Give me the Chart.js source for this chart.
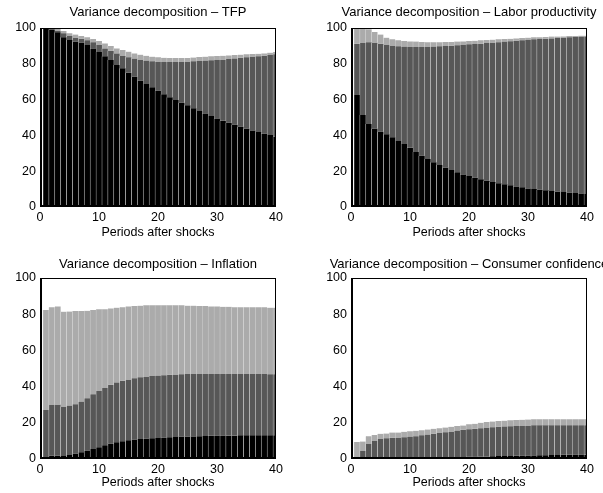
<!DOCTYPE html>
<html>
<head>
<meta charset="utf-8">
<script src="https://cdn.jsdelivr.net/npm/chart.js@4.4.0/dist/chart.umd.min.js"></script>
<style>
  html, body { margin: 0; padding: 0; background: #fff; overflow: hidden; }
  body { position: relative; width: 603px; height: 493px; }
  canvas { position: absolute; }
</style>
</head>
<body>
<canvas id="tfp" width="316" height="250" style="left:0;top:0"></canvas>
<canvas id="labor" width="316" height="250" style="left:311px;top:0"></canvas>
<canvas id="inflation" width="316" height="243" style="left:0;top:250px"></canvas>
<canvas id="confidence" width="316" height="243" style="left:311px;top:250px"></canvas>
<script>
// Forecast horizon and axis ticks
const periods = [1,2,3,4,5,6,7,8,9,10,11,12,13,14,15,16,17,18,19,20,
                 21,22,23,24,25,26,27,28,29,30,31,32,33,34,35,36,37,38,39,40];
const xTickValues = [0, 10, 20, 30, 40];
const yTickValues = [0, 20, 40, 60, 80, 100];

// Share of forecast error variance (%) explained by each shock
const tfpShock1 = [99.5,99.2,97.6,94.8,93.3,92.4,91.8,90.5,88.6,86.6,84.2,82.1,79.3,77.5,75.0,72.8,70.6,68.7,66.9,65.0,
                   63.0,61.3,59.8,58.3,56.8,55.1,53.6,52.3,50.8,49.5,48.2,47.1,46.0,44.9,43.8,42.8,41.9,41.0,40.2,39.3];
const tfpShock2 = [0.3,0.3,0.9,2.2,2.2,2.2,2.2,2.6,3.4,3.9,4.4,5.2,6.5,6.9,8.6,10.1,11.7,13.1,14.5,16.2,
                   18.0,19.7,21.2,22.7,24.4,26.3,28.0,29.5,31.2,32.6,34.1,35.6,37.0,38.5,39.8,41.2,42.3,43.5,44.7,46.0];
const tfpShock3 = [0.2,0.4,0.9,1.3,1.5,1.7,1.5,1.7,1.9,2.2,2.8,2.7,2.8,3.3,3.2,2.9,2.8,2.7,2.6,2.4,
                   2.4,2.2,2.2,2.2,2.1,2.1,2.2,2.2,2.2,2.3,2.2,2.0,1.9,1.7,1.7,1.5,1.4,1.3,1.3,1.3];

const laborShock1 = [62.6,51.4,46.4,43.8,42.1,40.6,38.9,36.9,35.2,33.1,30.7,28.7,26.8,25.0,23.5,22.0,20.7,19.4,18.2,17.3,
                     16.4,15.5,14.7,14.0,13.2,12.7,12.1,11.5,11.0,10.4,10.1,9.7,9.3,8.9,8.6,8.4,8.0,7.8,7.6,7.3];
const laborShock2 = [28.6,40.2,45.6,48.0,49.1,49.9,51.0,52.9,54.4,56.3,58.7,60.7,62.6,64.6,66.3,67.9,69.4,70.9,72.3,73.6,
                     74.7,75.7,76.9,77.8,78.8,79.7,80.5,81.4,82.1,83.1,83.6,84.2,84.7,85.3,85.8,86.2,86.8,87.2,87.6,88.0];
const laborShock3 = [8.6,8.2,7.3,6.0,5.1,4.1,3.8,3.3,3.1,3.1,3.0,2.8,2.6,2.4,2.2,2.3,2.1,2.1,2.0,1.8,
                     1.8,1.9,1.7,1.7,1.7,1.5,1.4,1.3,1.3,1.1,1.1,0.9,1.0,1.0,0.8,0.7,0.7,0.5,0.5,0.4];

const inflationShock1 = [0.5,1.8,1.8,1.7,2.2,3.0,3.7,4.6,5.5,6.5,7.6,8.5,9.2,9.8,10.3,10.7,11.1,11.3,11.4,11.6,
                         11.8,12.0,12.2,12.4,12.4,12.5,12.6,12.7,12.8,12.9,12.9,13.0,13.0,13.1,13.1,13.1,13.1,13.1,13.1,13.1];
const inflationShock2 = [26.6,28.1,28.3,27.3,27.3,27.3,28.0,29.0,30.3,31.1,31.9,32.5,33.1,33.4,33.6,33.9,34.1,34.3,34.5,34.5,
                         34.5,34.5,34.5,34.4,34.5,34.4,34.3,34.3,34.2,34.1,34.1,34.0,34.0,33.9,33.8,33.8,33.8,33.8,33.7,33.7];
const inflationShock3 = [55.2,53.9,54.2,52.4,52.0,51.4,50.0,48.3,46.5,45.1,43.3,42.2,41.3,40.7,40.4,39.9,39.5,39.3,39.0,38.9,
                         38.7,38.5,38.2,38.1,37.8,37.8,37.6,37.5,37.3,37.3,37.1,37.1,36.9,36.9,37.0,36.9,36.9,36.9,36.8,36.8];

const confidenceShock1 = [0.6,0.4,0.3,0.3,0.3,0.3,0.3,0.4,0.4,0.5,0.5,0.6,0.7,0.7,0.8,0.9,1.0,1.0,1.1,1.2,
                          1.3,1.4,1.4,1.5,1.6,1.7,1.7,1.8,1.9,1.9,2.0,2.1,2.1,2.2,2.2,2.3,2.3,2.4,2.4,2.5];
const confidenceShock2 = [0.3,4.0,8.0,9.7,10.8,11.2,11.4,11.5,11.6,11.9,12.1,12.5,12.8,13.2,13.5,13.9,14.2,14.7,15.0,15.2,
                          15.4,15.6,16.0,16.1,16.2,16.3,16.4,16.5,16.6,16.6,16.6,16.5,16.5,16.4,16.4,16.3,16.3,16.2,16.2,16.1];
const confidenceShock3 = [8.5,5.2,4.3,3.3,2.8,2.6,2.9,2.7,3.0,3.0,3.0,2.8,2.8,2.8,2.7,2.6,2.6,2.6,2.4,2.8,
                          2.8,3.0,3.0,3.1,3.2,3.2,3.3,3.3,3.2,3.3,3.3,3.3,3.4,3.4,3.4,3.4,3.4,3.4,3.4,3.4];

const FONT = 'Liberation Sans, Arial, Helvetica, sans-serif';
const shockColors = ['#000000', '#575757', '#ababab'];

// box around the plot area, heavier on the left and bottom like the original axes
const framePlugin = {
  id: 'frame',
  afterDatasetsDraw(chart) {
    const { ctx, chartArea: a } = chart;
    ctx.save();
    ctx.strokeStyle = '#000';
    ctx.lineWidth = 1;
    ctx.strokeRect(a.left + 0.5, a.top + 0.5, a.right - a.left - 1, a.bottom - a.top - 1);
    ctx.lineWidth = 2;
    ctx.beginPath();
    ctx.moveTo(a.left + 1, a.top);
    ctx.lineTo(a.left + 1, a.bottom - 1);
    ctx.lineTo(a.right, a.bottom - 1);
    ctx.stroke();
    ctx.restore();
  }
};

function makePanel(id, title, shares, layout) {
  const datasets = shares.map((data, i) => ({
    data: data,
    backgroundColor: shockColors[i],
    // thin pale edge between neighbouring bars
    borderColor: '#d2d2d2',
    borderWidth: { left: 0.6, right: 0, top: 0, bottom: 0 },
    barPercentage: 1,
    categoryPercentage: 1
  }));

  new Chart(document.getElementById(id), {
    type: 'bar',
    data: { labels: periods, datasets: datasets },
    plugins: [framePlugin],
    options: {
      responsive: false,
      animation: false,
      layout: { padding: 0 },
      plugins: {
        legend: { display: false },
        tooltip: { enabled: false },
        title: {
          display: true,
          text: title,
          color: '#000',
          font: { family: FONT, size: 13, weight: 'normal' },
          padding: { top: layout.titleTop, bottom: layout.titleBottom }
        }
      },
      scales: {
        x: {
          type: 'linear',
          min: 0,
          max: 40,
          stacked: true,
          offset: false,
          grid: { display: false, drawTicks: false, offset: false },
          border: { display: false },
          ticks: { color: '#000', font: { family: FONT, size: 12.5 }, padding: 3, maxRotation: 0, autoSkip: false },
          afterBuildTicks: s => { s.ticks = xTickValues.map(v => ({ value: v })); },
          afterFit: s => { s.height = layout.xHeight; },
          title: {
            display: true,
            text: 'Periods after shocks',
            color: '#000',
            font: { family: FONT, size: 12.5 },
            padding: { top: 0, bottom: layout.xTitleBottom }
          }
        },
        y: {
          min: 0,
          max: 100,
          stacked: true,
          grid: { display: false, drawTicks: false },
          border: { display: false },
          ticks: { color: '#000', font: { family: FONT, size: 12.5 }, padding: 4 },
          afterBuildTicks: s => { s.ticks = yTickValues.map(v => ({ value: v })); },
          afterFit: s => { s.width = 40; }
        },
        // empty right-hand axis keeps the plot area centred under the title
        y2: {
          position: 'right',
          grid: { display: false, drawTicks: false },
          border: { display: false },
          ticks: { display: false },
          afterFit: s => { s.width = 40; }
        }
      }
    }
  });
}

const topRow = { titleTop: 4.7, titleBottom: 7.7, xHeight: 43, xTitleBottom: 9.5 };
const bottomRow = { titleTop: 6.2, titleBottom: 6.2, xHeight: 34, xTitleBottom: 2.5 };

makePanel('tfp', 'Variance decomposition \u2013 TFP',
  [tfpShock1, tfpShock2, tfpShock3], topRow);
makePanel('labor', 'Variance decomposition \u2013 Labor productivity',
  [laborShock1, laborShock2, laborShock3], topRow);
makePanel('inflation', 'Variance decomposition \u2013 Inflation',
  [inflationShock1, inflationShock2, inflationShock3], bottomRow);
makePanel('confidence', 'Variance decomposition \u2013 Consumer confidence',
  [confidenceShock1, confidenceShock2, confidenceShock3], bottomRow);
</script>
</body>
</html>
